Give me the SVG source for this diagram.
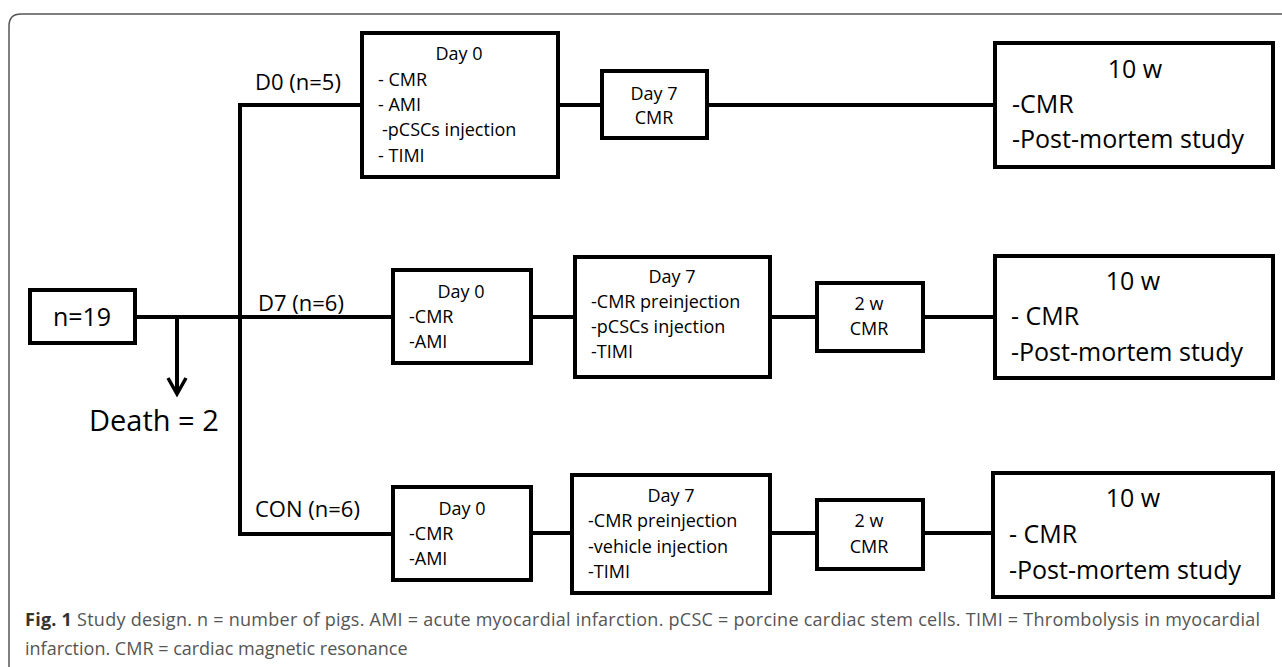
<svg xmlns="http://www.w3.org/2000/svg" width="1282" height="667" viewBox="0 0 1282 667">
<style>
.box{fill:#fff;stroke:#000;stroke-width:4}
.ln{fill:none;stroke:#000;stroke-width:4}
.t{font-family:"Open Sans","Liberation Sans",sans-serif;fill:#000}
.s{font-size:18px}
.m{font-size:22px}
.l{font-size:25px}
.c{text-anchor:middle}
.cap{font-family:"Open Sans","Liberation Sans",sans-serif;font-size:18px;fill:#555}
</style>
<defs>
<marker id="arr" markerUnits="userSpaceOnUse" viewBox="-20 -12 24 24" refX="0" refY="0" markerWidth="24" markerHeight="24" orient="auto">
<path d="M-16,-9 L0,0 L-16,9" fill="none" stroke="#000" stroke-width="3.5"/>
</marker>
</defs>
<rect width="1282" height="667" fill="#fff"/>
<path d="M9,667 V26 Q9,14 21,14 H1282" fill="none" stroke="#555" stroke-width="1.5"/>

<g id="connectors">
<path class="ln" d="M240,536 V103"/>
<path class="ln" d="M238,105 H362"/>
<path class="ln" d="M558,105 H602"/>
<path class="ln" d="M707,105 H995"/>
<path class="ln" d="M135,317 H393"/>
<path class="ln" d="M531,317 H575"/>
<path class="ln" d="M770,317 H817"/>
<path class="ln" d="M923,317 H995"/>
<path class="ln" d="M238,534 H393"/>
<path class="ln" d="M531,533 H572"/>
<path class="ln" d="M770,533 H817"/>
<path class="ln" d="M923,533 H993"/>
<path class="ln" d="M177,317 V394" marker-end="url(#arr)"/>
</g>

<g id="labels">
<text class="t m" x="255" y="90">D0 (n=5)</text>
<text class="t m" x="258" y="311">D7 (n=6)</text>
<text class="t m" x="255" y="517">CON (n=6)</text>
<text class="t" x="89" y="431" style="font-size:29px">Death = 2</text>
</g>

<g id="n19">
<rect class="box" x="30" y="290" width="105" height="53"/>
<text class="t l c" x="82" y="326">n=19</text>
</g>

<g id="d0-day0">
<rect class="box" x="362" y="33" width="196" height="144"/>
<text class="t s c" x="459" y="60">Day 0</text>
<text class="t s" x="378" y="86">- CMR</text>
<text class="t s" x="378" y="111">- AMI</text>
<text class="t s" x="382" y="136">-pCSCs injection</text>
<text class="t s" x="378" y="162">- TIMI</text>
</g>

<g id="d0-day7">
<rect class="box" x="602" y="71" width="105" height="67"/>
<text class="t s c" x="654" y="100">Day 7</text>
<text class="t s c" x="654" y="124">CMR</text>
</g>

<g id="d0-10w">
<rect class="box" x="995" y="43" width="278" height="124"/>
<text class="t l c" x="1135" y="78">10 w</text>
<text class="t l" x="1012" y="113">-CMR</text>
<text class="t l" x="1012" y="148">-Post-mortem study</text>
</g>

<g id="d7-day0">
<rect class="box" x="393" y="270" width="138" height="93"/>
<text class="t s c" x="461" y="298">Day 0</text>
<text class="t s" x="409" y="323">-CMR</text>
<text class="t s" x="409" y="348">-AMI</text>
</g>

<g id="d7-day7">
<rect class="box" x="575" y="257" width="195" height="120"/>
<text class="t s c" x="672" y="283">Day 7</text>
<text class="t s" x="591" y="308">-CMR preinjection</text>
<text class="t s" x="591" y="333">-pCSCs injection</text>
<text class="t s" x="591" y="358">-TIMI</text>
</g>

<g id="d7-2w">
<rect class="box" x="817" y="283" width="106" height="68"/>
<text class="t s c" x="869" y="310">2 w</text>
<text class="t s c" x="869" y="335">CMR</text>
</g>

<g id="d7-10w">
<rect class="box" x="995" y="256" width="278" height="122"/>
<text class="t l c" x="1133" y="290">10 w</text>
<text class="t l" x="1011" y="325">- CMR</text>
<text class="t l" x="1011" y="361">-Post-mortem study</text>
</g>

<g id="con-day0">
<rect class="box" x="393" y="487" width="138" height="93"/>
<text class="t s c" x="462" y="515">Day 0</text>
<text class="t s" x="409" y="540">-CMR</text>
<text class="t s" x="409" y="565">-AMI</text>
</g>

<g id="con-day7">
<rect class="box" x="572" y="475" width="198" height="118"/>
<text class="t s c" x="671" y="502">Day 7</text>
<text class="t s" x="588" y="527">-CMR preinjection</text>
<text class="t s" x="588" y="553">-vehicle injection</text>
<text class="t s" x="588" y="578">-TIMI</text>
</g>

<g id="con-2w">
<rect class="box" x="817" y="500" width="106" height="69"/>
<text class="t s c" x="869" y="527">2 w</text>
<text class="t s c" x="869" y="553">CMR</text>
</g>

<g id="con-10w">
<rect class="box" x="993" y="473" width="280" height="124"/>
<text class="t l c" x="1133" y="507">10 w</text>
<text class="t l" x="1009" y="543">- CMR</text>
<text class="t l" x="1009" y="579">-Post-mortem study</text>
</g>

<g id="caption">
<text class="cap" x="25" y="626" textLength="1235" lengthAdjust="spacing"><tspan font-weight="bold" fill="#333">Fig. 1</tspan> Study design. n = number of pigs. AMI = acute myocardial infarction. pCSC = porcine cardiac stem cells. TIMI = Thrombolysis in myocardial</text>
<text class="cap" x="25" y="655">infarction. CMR = cardiac magnetic resonance</text>
</g>
</svg>
